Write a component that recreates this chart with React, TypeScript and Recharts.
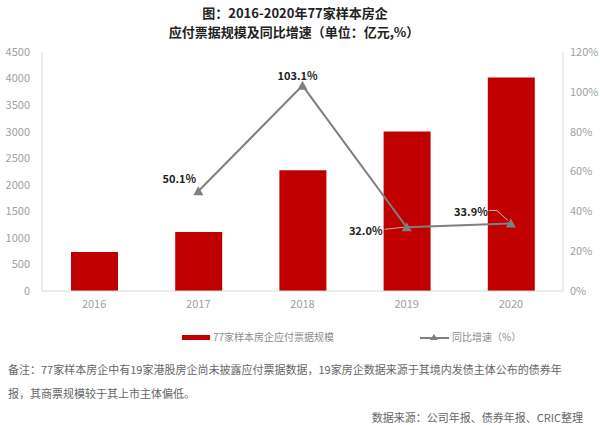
import React from 'react';
import { ComposedChart, Bar, Line, XAxis, YAxis, LabelList } from 'recharts';

const years = ['2016', '2017', '2018', '2019', '2020'];
const payables = [734, 1110, 2275, 3003, 4020];
const growth: (number | null)[] = [null, 50.1, 103.1, 32.0, 33.9];
const leftTicks = [0, 500, 1000, 1500, 2000, 2500, 3000, 3500, 4000, 4500];
const rightTicks = [0, 20, 40, 60, 80, 100, 120];

const barName = '77家样本房企应付票据规模';
const lineName = '同比增速（%）';

// where each growth label sits relative to its point
const labelShift: ([number, number] | null)[] = [null, [-19, -13], [-5, -11], [-41, 3], [-40, -12]];

const data = years.map((year, i) => ({ year, payables: payables[i], growth: growth[i] }));

const FONT = '"Noto Sans CJK SC", "Noto Sans", sans-serif';
const RED = '#c00000';
const GREY = '#7f7f7f';
const AXIS = '#d9d9d9';
const TICK = { fill: '#a0a0a0', fontSize: 11, fontFamily: FONT };

const Triangle = (props: any) => {
  const { cx, cy } = props;
  if (cx == null || cy == null || props.value == null) return null;
  return <path d={`M${cx - 5},${cy + 4} L${cx + 5},${cy + 4} L${cx},${cy - 5} Z`} fill={GREY} />;
};

const GrowthLabel = (props: any) => {
  const { x, y, index, value } = props;
  const shift = labelShift[index];
  if (value == null || !shift) return null;
  const tx = x + shift[0];
  const ty = y + shift[1];
  return (
    <g>
      {index === 3 && <path d={`M${x - 22},${y + 2} L${x - 3},${y}`} stroke="#c8b4b4" fill="none" />}
      {index === 4 && <path d={`M${x - 22},${y - 13} L${x - 14},${y - 13} L${x - 3},${y - 3}`} stroke="#c8b4b4" fill="none" />}
      <text x={tx} y={ty} textAnchor="middle" dominantBaseline="central" fontSize={11} fontWeight="bold" fill="#222" fontFamily={FONT}>
        {value.toFixed(1)}%
      </text>
    </g>
  );
};

export default function App() {
  return (
    <div style={{ position: 'absolute', left: 0, top: 0, width: 600, height: 425, background: '#fff', fontFamily: FONT }}>
      <div style={{ position: 'absolute', left: 0, top: 5, width: 590, textAlign: 'center', fontSize: 13, lineHeight: '16px', fontWeight: 'bold', color: '#222' }}>
        图：2016-2020年77家样本房企
      </div>
      <div style={{ position: 'absolute', left: 0, top: 24, width: 588, textAlign: 'center', fontSize: 13, lineHeight: '16px', fontWeight: 'bold', color: '#222' }}>
        应付票据规模及同比增速（单位：亿元,%）
      </div>

      <div style={{ position: 'absolute', left: 0, top: 0 }}>
        <ComposedChart width={600} height={320} data={data} margin={{ top: 52, right: 0, left: 0, bottom: 4 }} barCategoryGap="55%">
          <XAxis dataKey="year" stroke={AXIS} tickLine={false} tick={TICK} tickMargin={3} height={25} />
          <YAxis yAxisId="left" width={42} domain={[0, 4500]} ticks={leftTicks} stroke={AXIS} tickLine={false} tickSize={0} tickMargin={12} tick={TICK} />
          <YAxis yAxisId="right" orientation="right" width={37} domain={[0, 120]} ticks={rightTicks} stroke={AXIS} tickLine={false} tickSize={0} tickMargin={7} tick={{ ...TICK, textAnchor: 'start' }} tickFormatter={(v: number) => `${v}%`} />
          <Bar yAxisId="left" dataKey="payables" name={barName} fill={RED} barSize={47} isAnimationActive={false} />
          <Line yAxisId="right" dataKey="growth" name={lineName} stroke={GREY} strokeWidth={2} dot={<Triangle />} activeDot={false} connectNulls={false} isAnimationActive={false}>
            <LabelList dataKey="growth" content={<GrowthLabel />} />
          </Line>
        </ComposedChart>
      </div>

      <div style={{ position: 'absolute', left: 182, top: 335, width: 28, height: 5, background: RED }} />
      <div style={{ position: 'absolute', left: 213, top: 330, fontSize: 10, lineHeight: '14px', color: '#8c8c8c' }}>{barName}</div>
      <svg style={{ position: 'absolute', left: 418, top: 330 }} width={34} height={14}>
        <line x1={2} y1={8} x2={31} y2={8} stroke={GREY} strokeWidth={2} />
        <path d="M12,10 L20,10 L16,4 Z" fill={GREY} />
      </svg>
      <div style={{ position: 'absolute', left: 452, top: 330, fontSize: 10, lineHeight: '14px', color: '#8c8c8c' }}>{lineName}</div>

      <div style={{ position: 'absolute', left: 8, top: 357, width: 590, fontSize: 11, lineHeight: '24px', color: '#666', whiteSpace: 'nowrap' }}>
        <div>备注：77家样本房企中有19家港股房企尚未披露应付票据数据，19家房企数据来源于其境内发债主体公布的债券年</div>
        <div>报，其商票规模较于其上市主体偏低。</div>
      </div>
      <div style={{ position: 'absolute', right: 17, top: 409, fontSize: 11, lineHeight: '16px', color: '#666', whiteSpace: 'nowrap' }}>
        数据来源：公司年报、债券年报、CRIC整理
      </div>
    </div>
  );
}
